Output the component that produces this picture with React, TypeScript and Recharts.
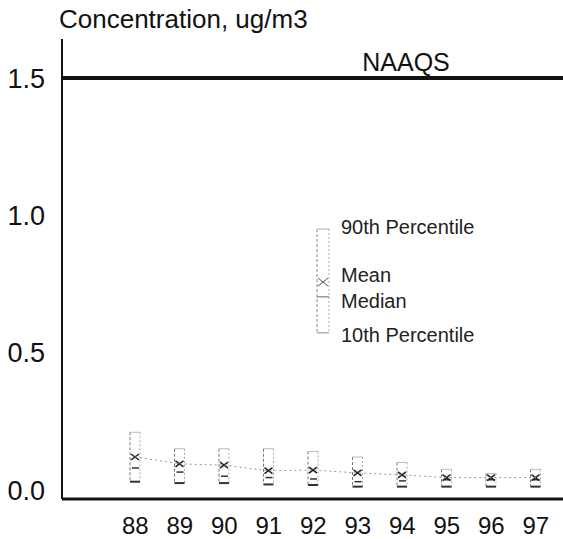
import { ComposedChart, Bar, Line, XAxis, YAxis, ReferenceLine } from 'recharts';

const years = ['88', '89', '90', '91', '92', '93', '94', '95', '96', '97'];
const p90 = [0.21, 0.15, 0.15, 0.15, 0.14, 0.12, 0.1, 0.075, 0.06, 0.075];
const p10 = [0.03, 0.025, 0.025, 0.02, 0.018, 0.012, 0.012, 0.012, 0.012, 0.012];
const means = [0.12, 0.095, 0.09, 0.07, 0.072, 0.062, 0.055, 0.045, 0.045, 0.045];
const medians = [0.08, 0.065, 0.05, 0.045, 0.04, 0.03, 0.033, 0.037, 0.037, 0.037];

// legend sample box: 90th, mean, median, 10th
const legendYear = '92';
const legendStats = [0.95, 0.757, 0.703, 0.572];
const legendLabels = ['90th Percentile', 'Mean', 'Median', '10th Percentile'];

const yTicks = [0, 0.5, 1.0, 1.5];
const naaqs = 1.5;

const data = years.map((yr, i) => ({
  year: yr,
  range: [p10[i], p90[i]],
  p10: p10[i],
  p90: p90[i],
  mean: means[i],
  median: medians[i],
  legend: yr === legendYear ? [legendStats[3], legendStats[0]] : undefined,
}));

const font = '"Liberation Sans", Arial, Helvetica, sans-serif';

const BoxShape = (props: any) => {
  const { x, y, width, height, payload } = props;
  if (height == null || isNaN(y)) return null;
  const hi = payload.p90;
  const lo = payload.p10;
  const py = (v: number) => y + (height * (hi - v)) / (hi - lo);
  const my = py(payload.mean);
  const dy = py(payload.median);
  const bottom = y + height;
  const cx = x + width / 2;
  return (
    <g>
      <line x1={x} y1={y} x2={x} y2={bottom} stroke="#777" strokeWidth={1} strokeDasharray="3 2" />
      <line x1={x + width} y1={y} x2={x + width} y2={bottom} stroke="#aaa" strokeWidth={1} strokeDasharray="2 2" />
      <line x1={x} y1={y} x2={x + width} y2={y} stroke="#bbb" strokeWidth={1} />
      <line x1={x} y1={bottom} x2={x + width} y2={bottom} stroke="#333" strokeWidth={2} />
      <line x1={x + 2} y1={dy} x2={x + width - 1} y2={dy} stroke="#333" strokeWidth={1.5} />
      <line x1={cx - 4} y1={my - 3} x2={cx + 4} y2={my + 3} stroke="#222" strokeWidth={1.5} />
      <line x1={cx - 4} y1={my + 3} x2={cx + 4} y2={my - 3} stroke="#222" strokeWidth={1.5} />
    </g>
  );
};

const LegendShape = (props: any) => {
  const { x, y, width, height } = props;
  if (height == null || isNaN(y)) return null;
  const [hi, mean, median, lo] = legendStats;
  const py = (v: number) => y + (height * (hi - v)) / (hi - lo);
  const bx = x + 10;
  const w = width;
  const bottom = y + height;
  const my = py(mean);
  const dy = py(median);
  const cx = bx + w / 2;
  const tx = bx + w + 12;
  const textProps = { fontFamily: font, fontSize: 20, fill: '#222', dominantBaseline: 'central' as const };
  return (
    <g>
      <line x1={bx} y1={y} x2={bx} y2={bottom} stroke="#888" strokeWidth={1} strokeDasharray="3 2" />
      <line x1={bx + w} y1={y} x2={bx + w} y2={bottom} stroke="#aaa" strokeWidth={1} strokeDasharray="2 2" />
      <line x1={bx} y1={y} x2={bx + w} y2={y} stroke="#aaa" strokeWidth={1} />
      <line x1={bx} y1={bottom} x2={bx + w} y2={bottom} stroke="#888" strokeWidth={1} />
      <line x1={bx} y1={dy} x2={bx + w} y2={dy} stroke="#666" strokeWidth={1} />
      <line x1={cx - 5} y1={my - 4} x2={cx + 5} y2={my + 4} stroke="#555" strokeWidth={1} />
      <line x1={cx - 5} y1={my + 4} x2={cx + 5} y2={my - 4} stroke="#555" strokeWidth={1} />
      <text x={tx} y={y - 2} {...textProps}>{legendLabels[0]}</text>
      <text x={tx} y={my - 7} {...textProps}>{legendLabels[1]}</text>
      <text x={tx} y={dy + 4} {...textProps}>{legendLabels[2]}</text>
      <text x={tx} y={bottom + 2} {...textProps}>{legendLabels[3]}</text>
    </g>
  );
};

const NaaqsLabel = (props: any) => {
  const { viewBox } = props;
  return (
    <text
      x={viewBox.x + 344}
      y={viewBox.y - 16}
      textAnchor="middle"
      dominantBaseline="central"
      fontFamily={font}
      fontSize={25}
      fill="#111"
    >
      NAAQS
    </text>
  );
};

export default function App() {
  return (
    <div style={{ position: 'fixed', left: 0, top: 0, width: 563, height: 539, overflow: 'hidden', background: '#fff' }}>
      <div
        style={{
          position: 'absolute',
          left: 59,
          top: 4,
          fontFamily: font,
          fontSize: 26,
          color: '#111',
          whiteSpace: 'nowrap',
        }}
      >
        Concentration, ug/m3
      </div>
      <ComposedChart
        width={600}
        height={539}
        data={data}
        margin={{ top: 39, right: 10, left: 0, bottom: 0 }}
        barCategoryGap={0}
      >
        <XAxis
          dataKey="year"
          height={40}
          tickLine={false}
          tickSize={0}
          tickMargin={18}
          padding={{ left: 51, right: 32 }}
          axisLine={{ stroke: '#111', strokeWidth: 3 }}
          tick={{ fill: '#111', fontSize: 24, fontFamily: font }}
        />
        <XAxis
          xAxisId="legend"
          dataKey="year"
          orientation="top"
          height={0}
          tick={false}
          tickLine={false}
          padding={{ left: 51, right: 32 }}
          axisLine={{ stroke: '#111', strokeWidth: 2 }}
        />
        <YAxis
          width={62}
          domain={[-0.033, 1.642]}
          ticks={yTicks}
          allowDataOverflow
          tickLine={false}
          tickSize={0}
          tickMargin={17}
          tickFormatter={(v: number) => v.toFixed(1)}
          axisLine={{ stroke: '#111', strokeWidth: 2 }}
          tick={{ fill: '#111', fontSize: 27, fontFamily: font }}
        />
        <ReferenceLine y={naaqs} stroke="#111" strokeWidth={4} label={<NaaqsLabel />} />
        <Line
          dataKey="mean"
          stroke="#999"
          strokeWidth={1}
          strokeDasharray="2 3"
          dot={false}
          activeDot={false}
          isAnimationActive={false}
        />
        <Bar dataKey="range" barSize={10} shape={<BoxShape />} isAnimationActive={false} />
        <Bar
          dataKey="legend"
          xAxisId="legend"
          barSize={12}
          shape={<LegendShape />}
          isAnimationActive={false}
        />
      </ComposedChart>
    </div>
  );
}
